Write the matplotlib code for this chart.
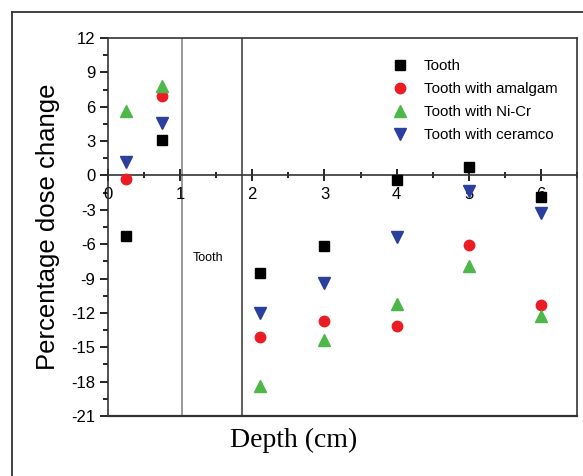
import matplotlib
matplotlib.use("Agg")
import matplotlib.pyplot as plt
from matplotlib.ticker import MultipleLocator
from matplotlib.lines import Line2D

plt.rcParams["axes.unicode_minus"] = False

# Data
depth_cm = [0.25, 0.75, 2.1, 3, 4, 5, 6]
tooth = [-5.3, 3.1, -8.5, -6.2, -0.4, 0.75, -1.9]
tooth_amalgam = [-0.35, 6.95, -14.1, -12.7, -13.1, -6.1, -11.3]
tooth_nicr = [5.6, 7.8, -18.4, -14.4, -11.2, -7.9, -12.3]
tooth_ceramco = [1.2, 4.6, -12.0, -9.4, -5.4, -1.35, -3.3]
series_labels = ["Tooth", "Tooth with amalgam", "Tooth with Ni-Cr", "Tooth with ceramco"]
boundary_x = [1.03, 1.86]
region_label = "Tooth"

W, H = 583, 476
fig = plt.figure(figsize=(W / 100, H / 100), dpi=100)
fig.patch.set_facecolor("white")

# Outer frame (open at right/bottom, as cropped)
fx0 = 12 / W
fy1 = 1 - 12 / H
fig.add_artist(Line2D([fx0, 1.0], [fy1, fy1], transform=fig.transFigure, color="#333333", lw=1.3))
fig.add_artist(Line2D([fx0, fx0], [0.0, fy1], transform=fig.transFigure, color="#333333", lw=1.3))

ax = fig.add_axes([108 / W, 1 - 416 / H, (577 - 108) / W, (416 - 38) / H])

styles = [
    dict(marker="s", color="black", ms=6.5),
    dict(marker="o", color="#ec1c24", ms=7.5),
    dict(marker="^", color="#4db848", ms=8.5),
    dict(marker="v", color="#2b3f9e", ms=8.5),
]
for ys, lab, st in zip([tooth, tooth_amalgam, tooth_nicr, tooth_ceramco], series_labels, styles):
    ax.plot(depth_cm, ys, linestyle="none", marker=st["marker"], color=st["color"],
            ms=st["ms"], mec=st["color"], label=lab, zorder=3)

ax.axvline(boundary_x[0], color="#888888", lw=1.2, zorder=1)
ax.axvline(boundary_x[1], color="#444444", lw=1.2, zorder=1)
ax.text(1.17, -7.2, region_label, fontsize=9, family="Liberation Sans", va="center", ha="left")

ax.set_xlim(0, 6.5)
ax.set_ylim(-21, 12)

ax.spines["bottom"].set_position(("data", 0))
for s in ax.spines.values():
    s.set_color("#333333")
    s.set_linewidth(1.2)
ax.axhline(-21, color="#333333", lw=1.6, clip_on=False)

ax.xaxis.set_major_locator(MultipleLocator(1))
ax.xaxis.set_minor_locator(MultipleLocator(0.5))
ax.yaxis.set_major_locator(MultipleLocator(3))
ax.yaxis.set_minor_locator(MultipleLocator(1.5))
ax.tick_params(axis="x", which="major", direction="inout", length=8, width=1.2, pad=4)
ax.tick_params(axis="x", which="minor", direction="inout", length=5, width=1.2)
ax.tick_params(axis="y", which="major", direction="out", length=6, width=1.2, pad=3)
ax.tick_params(axis="y", which="minor", direction="out", length=3.5, width=1.2)
ax.set_xticks([0, 1, 2, 3, 4, 5, 6])
ax.set_yticks(list(range(-21, 13, 3)))
for lbl in ax.get_xticklabels() + ax.get_yticklabels():
    lbl.set_family("Liberation Sans")
    lbl.set_fontsize(12)

ax.set_ylabel("Percentage dose change", family="Liberation Sans", fontsize=18.5, labelpad=8)
fig.text(294 / W, 1 - 440 / H, "Depth (cm)", family="Liberation Serif",
         fontsize=20, ha="center", va="center")

leg = ax.legend(loc="upper left", bbox_to_anchor=(0.587, 0.968), frameon=False,
                prop={"family": "Liberation Sans", "size": 10.8}, handlelength=1.0,
                handletextpad=1.1, labelspacing=0.6, borderaxespad=0.2)

fig.savefig("out.png", dpi=100, facecolor="white")
